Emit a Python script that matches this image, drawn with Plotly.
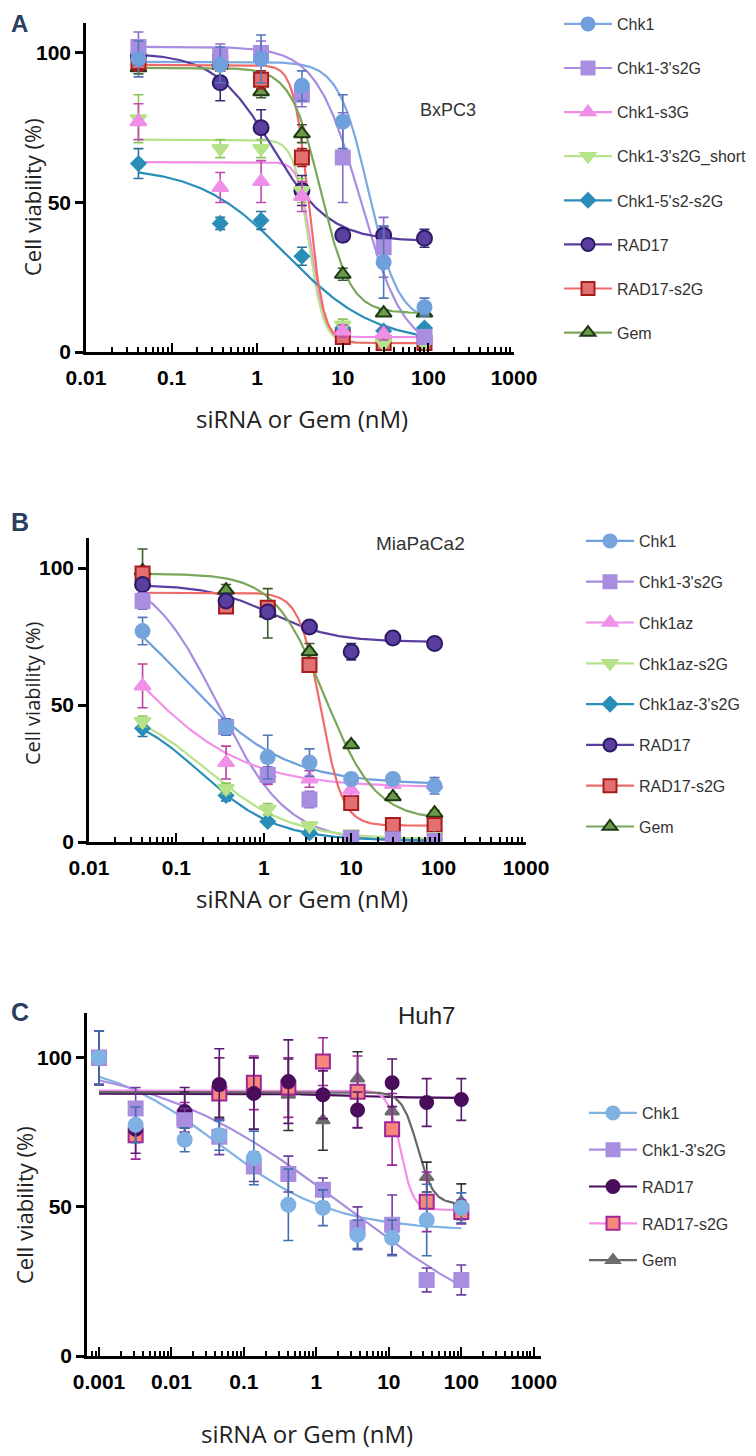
import numpy as np
import plotly.graph_objects as go

# ---------------- Panel A : BxPC3 ----------------
conc_a = [0.041, 0.37, 1.11, 3.33, 10, 30, 90]
names_a = ["Chk1", "Chk1-3's2G", "Chk1-s3G", "Chk1-3's2G_short",
           "Chk1-5's2-s2G", "RAD17", "RAD17-s2G", "Gem"]
a_chk1 = [98, 96, 98, 89, 77, 30, 15]
a_chk1_err = [6, 6, 8, 5, 9, 12, 3]
a_chk1_3s2g = [102, 99, 100, 86, 65, 35, 5]
a_chk1_3s2g_err = [5, 4, 4, 4, 15, 10, 2]
a_chk1_s3g = [77, 55, 57, 52, 7, 6, 5]
a_chk1_s3g_err = [6, 5, 7, 5, 2, 2, 1]
a_short = [78, 68, 68, 54, 9, 3, 3]
a_short_err = [8, 3, 3, 4, 2, 1, 1]
a_5s2 = [63, 43, 44, 32, 8, 7, 8]
a_5s2_err = [5, 2, 3, 3, 2, 1, 1]
a_rad17 = [99, 90, 75, 54, 39, 39, 38]
a_rad17_err = [3, 6, 6, 5, 2, 3, 3]
a_rad17s2g = [97, 97, 91, 65, 5, 3, 3]
a_rad17s2g_err = [3, 3, 3, 3, 1, 1, 1]
a_gem = [95, 97, 87, 73, 26, 13, 13]
a_gem_err = [2, 3, 2, 3, 2, 1, 1]
# fitted dose-response curves: [top, bottom, IC50, hill]
a_fits = [[97, 10, 20, 2.5], [102, 0, 16, 1.7], [63.5, 5, 4.3, 6],
          [71, 3, 4, 5], [62, 3, 2.2, 0.85], [100, 37, 1.5, 1.3],
          [96, 3, 4, 5], [95, 13, 5.5, 2.5]]

# ---------------- Panel B : MiaPaCa2 ----------------
conc_b = [0.041, 0.37, 1.11, 3.33, 10, 30, 90]
names_b = ["Chk1", "Chk1-3's2G", "Chk1az", "Chk1az-s2G", "Chk1az-3's2G",
           "RAD17", "RAD17-s2G", "Gem"]
b_chk1 = [77, 42, 31, 29, 23, 23, 20.5]
b_chk1_err = [5, 3, 8, 5, 2, 1, 3]
b_chk1_3s2g = [88, 42, 24.5, 15.5, 1.5, 1, 0.5]
b_chk1_3s2g_err = [3, 2, 3, 3, 1, 1, 1]
b_chk1az = [57, 29, 25, 23, 19, 21, 21]
b_chk1az_err = [8, 6, 4, 3, 2, 1, 1]
b_az_s2g = [44, 19.5, 12, 6, 3, 2, 2]
b_az_s2g_err = [2, 2, 2, 1, 1, 1, 1]
b_az_3s2g = [41.5, 17, 7.5, 3.3, 1, 1, 1]
b_az_3s2g_err = [3, 2, 1, 1, 1, 1, 1]
b_rad17 = [94, 88, 84, 78.5, 69.5, 74.5, 72.5]
b_rad17_err = [2, 2, 2, 1, 3, 2, 1]
b_rad17s2g = [98, 86, 85.5, 64.6, 14.2, 6.2, 6.2]
b_rad17s2g_err = [2, 2, 2, 2, 1, 1, 1]
b_gem = [99, 92, 83.5, 69.5, 35.5, 16.5, 10.5]
b_gem_err = [8, 2, 9, 3, 1, 1, 1]
b_fits = [[100, 21, 0.115, 0.75], [100, 0, 0.3, 1.1], [100, 20, 0.033, 0.7],
          [52, 1, 0.22, 0.9], [50, 0.5, 0.19, 1.0], [94, 73, 1.2, 1.2],
          [91, 6, 4.5, 3.5], [98, 8, 5, 1.5]]

# ---------------- Panel C : Huh7 ----------------
conc_c = [0.001, 0.0032, 0.0152, 0.0457, 0.137, 0.41, 1.23, 3.7, 11.1, 33.3, 100]
names_c = ["Chk1", "Chk1-3's2G", "RAD17", "RAD17-s2G", "Gem"]
c_chk1 = [100, 77.5, 72.5, 74, 66.4, 50.7, 49.7, 40.6, 39.6, 45.6, 49.7]
c_chk1_err = [9, 6, 4, 5, 9, 12, 6, 5, 6, 12, 5]
c_chk1_3s2g = [100, 83, 79, 73.5, 63.5, 61, 55.7, 43, 44, 25.5, 25.5]
c_chk1_3s2g_err = [9, 7, 4, 6, 5, 6, 4, 7, 10, 4, 5]
c_rad17 = [100, 76, 82, 91, 88, 92, 87.6, 82.5, 91.6, 85, 86]
c_rad17_err = [9, 8, 8, 12, 12, 14, 8, 6, 8, 8, 7]
c_rad17s2g = [100, 74, 80, 88, 91.6, 90, 98.7, 88.6, 76, 51.7, 48.3]
c_rad17s2g_err = [9, 8, 5, 12, 9, 10, 8, 12, 12, 10, 4]
c_gem = [100, 78, 82.5, 90, 88, 87.6, 79, 93, 82, 60, 51.7]
c_gem_err = [9, 6, 6, 10, 12, 12, 10, 9, 8, 5, 6]
c_fits = [[100, 42, 0.045, 0.55], [100, 0, 2.5, 0.32], [88, 86.5, 3, 1],
          [89, 49, 14.5, 5], [88.5, 51, 25, 4]]

x_tickvals = [0.001, 0.01, 0.1, 1, 10, 100, 1000]
x_ticktext = ["0.001", "0.01", "0.1", "1", "10", "100", "1000"]


def logistic(x, top, bottom, ic50, hill):
    return bottom + (top - bottom) / (1 + (x / ic50) ** hill)


def sty(symbol, fill, edge, line, err, size=14):
    return dict(symbol=symbol, fill=fill, edge=edge, line=line, err=err, size=size)


styles_a = [
    sty("circle", "#6f9fdc", "#6f9fdc", "#7ba8e2", "#5577b8"),
    sty("square", "#a88de0", "#a88de0", "#a88de0", "#8a6cc8"),
    sty("triangle-up", "#f08de8", "#f08de8", "#f08de8", "#c04aae"),
    sty("triangle-down", "#b6e28a", "#b6e28a", "#b6e28a", "#8cc45c"),
    sty("diamond", "#2a8eb8", "#2a8eb8", "#2a8eb8", "#2a6f98", 11),
    sty("circle", "#5b3f9f", "#2c1a66", "#5b3f9f", "#3c2a78", 15),
    sty("square", "#e27070", "#a51c1c", "#f06a6a", "#a51c1c"),
    sty("triangle-up", "#6b9a4b", "#1d3a12", "#79a65a", "#3d5e2a"),
]
styles_b = [
    sty("circle", "#75a4dd", "#75a4dd", "#6d9edd", "#5577b8"),
    sty("square", "#a88de0", "#a88de0", "#a88de0", "#8a6cc8"),
    sty("triangle-up", "#f090e8", "#f090e8", "#f090e8", "#b8409e"),
    sty("triangle-down", "#b6e28a", "#b6e28a", "#b6e28a", "#8cc45c"),
    sty("diamond", "#2a8eb8", "#2a8eb8", "#2a8eb8", "#2a6f98", 11),
    sty("circle", "#5b3f9f", "#2c1a66", "#5b3f9f", "#3c2a78", 15),
    sty("square", "#e27070", "#a51c1c", "#f06a6a", "#a51c1c"),
    sty("triangle-up", "#6b9a4b", "#1d3a12", "#79a65a", "#3d5e2a"),
]
styles_c = [
    sty("circle", "#7fb1e3", "#7fb1e3", "#7fb1e3", "#3f6fb0"),
    sty("square", "#a98ee0", "#a98ee0", "#a98ee0", "#6e3ea0"),
    sty("circle", "#4a0d5c", "#4a0d5c", "#4a0d5c", "#5a1a6e", 13),
    sty("square", "#f7877a", "#a0249a", "#f48fe8", "#a0249a"),
    sty("triangle-up", "#6d6d6d", "#6d6d6d", "#666666", "#333333", 12),
]

fig = go.Figure()


def add_panel(xa, ya, leg, conc, names, ys, errs, fits, styles):
    xs = np.logspace(np.log10(conc[0]), np.log10(conc[-1]), 300)
    for fit, st in zip(fits, styles):
        fig.add_trace(go.Scatter(
            x=xs, y=logistic(xs, *fit), mode="lines", xaxis=xa, yaxis=ya,
            line=dict(color=st["line"], width=2.2), showlegend=False, hoverinfo="skip"))
    for name, y, e, st in reversed(list(zip(names, ys, errs, styles))):
        fig.add_trace(go.Scatter(
            x=conc, y=y, mode="markers", xaxis=xa, yaxis=ya, name=name, showlegend=False,
            marker=dict(symbol=st["symbol"], size=st["size"], color=st["fill"],
                        line=dict(color=st["edge"], width=2)),
            error_y=dict(type="data", array=e, color=st["err"], thickness=1.6, width=5)))
    for name, st in zip(names, styles):
        fig.add_trace(go.Scatter(
            x=[None], y=[None], mode="lines+markers", xaxis=xa, yaxis=ya, name=name,
            legend=leg, legendgroup=leg + name,
            line=dict(color=st["line"], width=2.2),
            marker=dict(symbol=st["symbol"], size=min(st["size"], 13), color=st["fill"],
                        line=dict(color=st["edge"], width=2))))


add_panel("x", "y", "legend", conc_a, names_a,
          [a_chk1, a_chk1_3s2g, a_chk1_s3g, a_short, a_5s2, a_rad17, a_rad17s2g, a_gem],
          [a_chk1_err, a_chk1_3s2g_err, a_chk1_s3g_err, a_short_err, a_5s2_err,
           a_rad17_err, a_rad17s2g_err, a_gem_err], a_fits, styles_a)
add_panel("x2", "y2", "legend2", conc_b, names_b,
          [b_chk1, b_chk1_3s2g, b_chk1az, b_az_s2g, b_az_3s2g, b_rad17, b_rad17s2g, b_gem],
          [b_chk1_err, b_chk1_3s2g_err, b_chk1az_err, b_az_s2g_err, b_az_3s2g_err,
           b_rad17_err, b_rad17s2g_err, b_gem_err], b_fits, styles_b)
add_panel("x3", "y3", "legend3", conc_c, names_c,
          [c_chk1, c_chk1_3s2g, c_rad17, c_rad17s2g, c_gem],
          [c_chk1_err, c_chk1_3s2g_err, c_rad17_err, c_rad17s2g_err, c_gem_err],
          c_fits, styles_c)

W, H = 756, 1456
OFF = 8  # the page body margin shifts the figure by this much
minor_vals = [k * 10.0 ** n for n in range(-4, 3) for k in range(2, 10)]
tick_font = dict(family="Arial", size=21, color="black", weight="bold")


def px(x):
    return (x - OFF) / W


def py(y):
    return 1 - (y - OFF) / H


def xaxis(x0, x1, rng, ybot):
    return dict(domain=[px(x0), px(x1)], type="log", range=rng,
                anchor=ybot, tickvals=x_tickvals, ticktext=x_ticktext,
                ticks="inside", ticklen=9, tickwidth=2, tickcolor="black",
                minor=dict(tickvals=minor_vals, ticks="inside", ticklen=5,
                           tickwidth=1.5, tickcolor="black", showgrid=False),
                showline=True, linewidth=2.5, linecolor="black",
                showgrid=False, zeroline=False, tickfont=tick_font,
                ticklabelstandoff=5, fixedrange=True, automargin=False)


def yaxis(y0, y1, rng, xanc):
    return dict(domain=[py(y0), py(y1)], range=rng, anchor=xanc,
                tickvals=[0, 50, 100], ticks="outside", ticklen=8, tickwidth=2.5,
                tickcolor="black", showline=True, linewidth=2.5, linecolor="black",
                showgrid=False, zeroline=False, tickfont=tick_font, fixedrange=True,
                automargin=False)


def legend(x, y, gap):
    return dict(x=px(x), y=py(y), xanchor="left", yanchor="top",
                font=dict(family="Arial", size=16, color="#333333"),
                tracegroupgap=gap, itemwidth=48, bgcolor="rgba(0,0,0,0)")


fig.update_layout(
    width=W, height=H, margin=dict(l=0, r=0, t=0, b=0, autoexpand=False),
    paper_bgcolor="white", plot_bgcolor="white",
    xaxis=xaxis(86, 514, [-2, 3], "y"),
    yaxis=yaxis(352, 23, [0, 110], "x"),
    xaxis2=xaxis(89, 526, [-2, 3], "y2"),
    yaxis2=yaxis(842, 538, [0, 111], "x2"),
    xaxis3=xaxis(87, 541, [-3.166, 3.1], "y3"),
    yaxis3=yaxis(1356, 1013, [0, 115], "x3"),
    legend=legend(559, 7, 20.3),
    legend2=legend(581, 524, 17),
    legend3=legend(584, 1096, 13),
)

title_font = dict(family="Open Sans", size=24, color="#222222")
ann = [
    dict(text="<b>A</b>", x=px(8.5), y=py(8.5), font=dict(family="Arial", size=24)),
    dict(text="<b>B</b>", x=px(8.5), y=py(506), font=dict(family="Arial", size=25)),
    dict(text="<b>C</b>", x=px(8.5), y=py(996), font=dict(family="Arial", size=25)),
    dict(text="BxPC3", x=px(418), y=py(98), font=dict(family="Arial", size=18, color="#333")),
    dict(text="MiaPaCa2", x=px(374), y=py(531), font=dict(family="Arial", size=19, color="#333")),
    dict(text="Huh7", x=px(396), y=py(1000), font=dict(family="Arial", size=24, color="#222")),
]
for a in ann:
    a.update(xref="paper", yref="paper", xanchor="left", yanchor="top", showarrow=False)
for cx, cy in [(302, 418), (302, 898), (307, 1433)]:
    ann.append(dict(text="siRNA or Gem (nM)", x=px(cx), y=py(cy), xref="paper",
                    yref="paper", xanchor="center", yanchor="middle",
                    showarrow=False, font=title_font))
for cx, cy, sz in [(32, 197, 22), (32, 694, 20), (24, 1205, 22)]:
    ann.append(dict(text="Cell viability (%)", x=px(cx), y=py(cy), xref="paper",
                    yref="paper", xanchor="center", yanchor="middle",
                    showarrow=False, textangle=-90,
                    font=dict(family="Open Sans", size=sz, color="#222222")))
fig.update_layout(annotations=ann)

fig.write_html("out.html")
